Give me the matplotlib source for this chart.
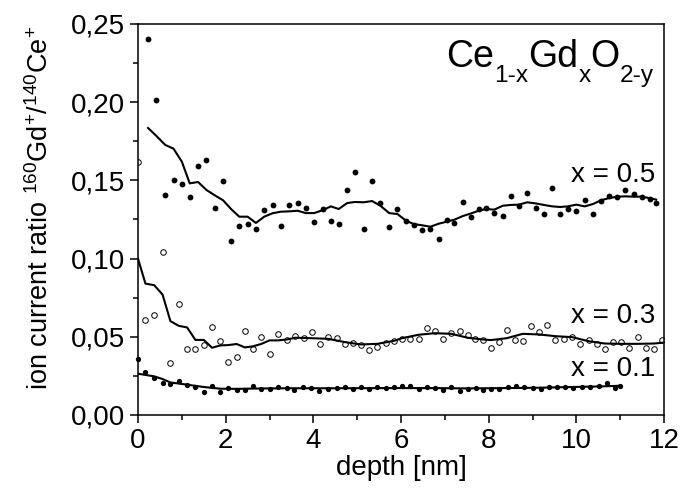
import matplotlib
matplotlib.use('Agg')
import matplotlib.pyplot as plt
import matplotlib.transforms as mtransforms
from matplotlib.ticker import MultipleLocator, FuncFormatter

plt.rcParams['font.family'] = ['Liberation Sans', 'DejaVu Sans']
plt.rcParams['mathtext.fontset'] = 'custom'
plt.rcParams['mathtext.rm'] = 'Liberation Sans'
plt.rcParams['mathtext.it'] = 'Liberation Sans:italic'

# x = 0.5 (filled) -- measured points and smoothed curve
x05_depth = [0.23, 0.42, 0.62, 0.81, 1.00, 1.18, 1.37, 1.56, 1.75, 1.94, 2.13, 2.31, 2.50,
             2.69, 2.88, 3.07, 3.26, 3.45, 3.64, 3.83, 4.02, 4.21, 4.40, 4.58, 4.77, 4.95,
             5.15, 5.34, 5.53, 5.73, 5.92, 6.11, 6.29, 6.48, 6.67, 6.86, 7.04, 7.22, 7.41,
             7.60, 7.77, 7.94, 8.13, 8.32, 8.50, 8.69, 8.88, 9.07, 9.26, 9.45, 9.63, 9.81,
             10.00, 10.19, 10.38, 10.57, 10.75, 10.93, 11.12, 11.31, 11.49, 11.67, 11.82]
x05_ratio = [0.2404, 0.2014, 0.1409, 0.1505, 0.1477, 0.1394, 0.1594, 0.1633, 0.1324, 0.1494,
             0.1111, 0.1209, 0.1222, 0.1190, 0.1311, 0.1343, 0.1207, 0.1340, 0.1355, 0.1323,
             0.1236, 0.1319, 0.1243, 0.1221, 0.1440, 0.1555, 0.1191, 0.1496, 0.1357, 0.1204,
             0.1317, 0.1238, 0.1215, 0.1181, 0.1191, 0.1123, 0.1247, 0.1226, 0.1362, 0.1263,
             0.1316, 0.1323, 0.1294, 0.1274, 0.1402, 0.1336, 0.1421, 0.1326, 0.1283, 0.1451,
             0.1283, 0.1317, 0.1302, 0.1374, 0.1285, 0.1368, 0.1402, 0.1391, 0.1436, 0.1411,
             0.1396, 0.1381, 0.1355]
x05_fit = [0.1835, 0.1784, 0.1727, 0.1703, 0.1620, 0.1481, 0.1490, 0.1439, 0.1405, 0.1373,
           0.1315, 0.1268, 0.1268, 0.1228, 0.1268, 0.1290, 0.1300, 0.1302, 0.1306, 0.1291,
           0.1291, 0.1309, 0.1334, 0.1317, 0.1355, 0.1362, 0.1360, 0.1368, 0.1338, 0.1291,
           0.1285, 0.1243, 0.1221, 0.1213, 0.1204, 0.1223, 0.1236, 0.1249, 0.1272, 0.1289,
           0.1306, 0.1317, 0.1313, 0.1338, 0.1343, 0.1345, 0.1360, 0.1353, 0.1343, 0.1334,
           0.1330, 0.1334, 0.1345, 0.1334, 0.1349, 0.1374, 0.1387, 0.1396, 0.1398, 0.1396,
           0.1396, 0.1387, 0.1377]

# x = 0.3 (open)
x03_depth = [0.00, 0.17, 0.37, 0.56, 0.74, 0.93, 1.12, 1.31, 1.50, 1.69, 1.88, 2.06, 2.25,
             2.44, 2.62, 2.81, 3.00, 3.19, 3.40, 3.59, 3.78, 3.97, 4.15, 4.34, 4.53, 4.72,
             4.91, 5.09, 5.28, 5.46, 5.65, 5.84, 6.02, 6.21, 6.40, 6.59, 6.77, 6.96, 7.15,
             7.34, 7.52, 7.68, 7.86, 8.05, 8.23, 8.41, 8.59, 8.78, 8.96, 9.15, 9.34, 9.52,
             9.72, 9.90, 10.09, 10.28, 10.47, 10.65, 10.83, 11.02, 11.21, 11.40, 11.58,
             11.77, 11.96]
x03_ratio = [0.162, 0.061, 0.064, 0.104, 0.033, 0.071, 0.042, 0.042, 0.045, 0.056, 0.047,
             0.034, 0.037, 0.054, 0.042, 0.050, 0.039, 0.052, 0.0477, 0.0506, 0.0491, 0.0530,
             0.0455, 0.0498, 0.0494, 0.0451, 0.0460, 0.0449, 0.0413, 0.0436, 0.0460, 0.0472,
             0.0489, 0.0485, 0.0485, 0.0555, 0.0534, 0.0483, 0.0526, 0.0536, 0.0511, 0.0489,
             0.0479, 0.0430, 0.0464, 0.0545, 0.0479, 0.0470, 0.0568, 0.0528, 0.0574, 0.0479,
             0.0489, 0.0500, 0.0455, 0.0477, 0.0455, 0.0423, 0.0468, 0.0466, 0.0426, 0.0498,
             0.0426, 0.0423, 0.0479]
x03_fit_depth = [0.00, 0.17, 0.37, 0.56, 0.74, 0.93, 1.12, 1.31, 1.50, 1.69, 1.88, 2.06,
                 2.25, 2.44, 2.62, 2.81, 3.00, 3.19, 3.40, 3.59, 3.97, 4.34, 4.72, 5.09,
                 5.46, 5.84, 6.02, 6.40, 6.77, 7.15, 7.52, 7.86, 8.05, 8.41, 8.78, 9.15,
                 9.52, 9.90, 10.28, 10.65, 11.02, 11.40, 11.77, 11.96]
x03_fit = [0.100, 0.084, 0.083, 0.077, 0.060, 0.057, 0.056, 0.048, 0.048, 0.043, 0.0445,
           0.0447, 0.0454, 0.0432, 0.0439, 0.0454, 0.0477, 0.0477, 0.0483, 0.0494, 0.0491,
           0.0487, 0.0466, 0.0451, 0.0455, 0.0474, 0.0491, 0.0513, 0.0523, 0.0519, 0.0494,
           0.0483, 0.0479, 0.0491, 0.0519, 0.0515, 0.0504, 0.0498, 0.0472, 0.0457, 0.0455,
           0.0455, 0.0457, 0.0462]

# x = 0.1 (filled, small)
x01_depth = [0.00, 0.17, 0.37, 0.56, 0.74, 0.93, 1.12, 1.31, 1.50, 1.69, 1.88, 2.06, 2.25,
             2.44, 2.62, 2.81, 3.00, 3.19, 3.39, 3.57, 3.76, 3.95, 4.14, 4.34, 4.53, 4.72,
             4.90, 5.09, 5.27, 5.46, 5.65, 5.84, 6.02, 6.21, 6.40, 6.59, 6.78, 6.96, 7.15,
             7.34, 7.53, 7.70, 7.86, 8.05, 8.24, 8.43, 8.63, 8.81, 9.00, 9.19, 9.37, 9.56,
             9.75, 9.93, 10.13, 10.32, 10.51, 10.69, 10.88, 11.00]
x01_ratio = [0.0359, 0.0272, 0.0234, 0.0203, 0.0200, 0.0217, 0.0194, 0.0177, 0.0150, 0.0184,
             0.0148, 0.0175, 0.0160, 0.0160, 0.0186, 0.0167, 0.0169, 0.0177, 0.0170, 0.0160,
             0.0181, 0.0170, 0.0151, 0.0166, 0.0174, 0.0181, 0.0164, 0.0177, 0.0166, 0.0177,
             0.0170, 0.0179, 0.0183, 0.0183, 0.0164, 0.0179, 0.0172, 0.0162, 0.0177, 0.0155,
             0.0166, 0.0171, 0.0160, 0.0168, 0.0168, 0.0181, 0.0185, 0.0181, 0.0174, 0.0168,
             0.0181, 0.0181, 0.0179, 0.0174, 0.0177, 0.0177, 0.0185, 0.0204, 0.0172, 0.0185]
x01_fit_depth = [0.00, 0.37, 0.56, 0.74, 1.12, 1.50, 1.88, 2.25, 2.62, 3.39, 4.53, 5.65,
                 6.78, 7.53, 9.07, 10.59, 11.00]
x01_fit = [0.0264, 0.0247, 0.0230, 0.0208, 0.0194, 0.0179, 0.0168, 0.0167, 0.0169, 0.0171,
           0.0171, 0.0172, 0.0172, 0.0170, 0.0174, 0.0183, 0.0187]


def rich_text(ax, x, y, parts, size):
    # lay out pieces (text, scale, shift) left to right, right-aligned at (x, y)
    fig = ax.figure
    renderer = fig.canvas.get_renderer()
    items = []
    for s, scale, shift in parts:
        t = ax.text(x, y, s, fontsize=size * scale, ha='left', va='baseline')
        w = t.get_window_extent(renderer).width * 72 / fig.dpi
        items.append((t, w, shift))
    offset = -sum(w for _, w, _ in items)
    for t, w, shift in items:
        t.set_transform(mtransforms.offset_copy(ax.transData, fig=fig, x=offset,
                                                y=shift * size, units='points'))
        offset += w


fig = plt.figure(figsize=(6.83, 4.91), dpi=100)
ax = fig.add_axes([138 / 683, 1 - 415 / 491, 526 / 683, 391 / 491])

ax.plot(x05_depth, x05_ratio, 'o', color='black', ms=4.2, mew=0, clip_on=False)
ax.plot(x05_depth, x05_fit, '-', color='black', lw=1.5)
ax.plot(x03_depth, x03_ratio, 'o', mfc='white', mec='black', ms=4.0, mew=0.7)
ax.plot(x03_fit_depth, x03_fit, '-', color='black', lw=1.5)
ax.plot(x01_depth, x01_ratio, 'o', color='black', ms=3.8, mew=0, clip_on=False)
ax.plot(x01_fit_depth, x01_fit, '-', color='black', lw=1.5)

ax.set_xlim(0, 12)
ax.set_ylim(0, 0.25)
ax.xaxis.set_major_locator(MultipleLocator(2))
ax.xaxis.set_minor_locator(MultipleLocator(1))
ax.yaxis.set_major_locator(MultipleLocator(0.05))
ax.yaxis.set_minor_locator(MultipleLocator(0.025))
ax.yaxis.set_major_formatter(FuncFormatter(lambda v, p: f'{v:.2f}'.replace('.', ',')))
ax.tick_params(which='major', direction='out', length=6, width=1.1, labelsize=20, pad=3)
ax.tick_params(which='minor', direction='out', length=3.5, width=1.1)
for sp in ax.spines.values():
    sp.set_linewidth(1.1)

ax.set_xlabel('depth [nm]', fontsize=20, labelpad=1)
ax.set_ylabel(r'ion current ratio $^{160}$Gd$^{+}$/$^{140}$Ce$^{+}$', fontsize=19.5)
ax.yaxis.set_label_coords(-0.16, 0.53)

ax.text(11.81, 0.1492, 'x = 0.5', fontsize=20, ha='right', va='baseline')
ax.text(11.81, 0.0586, 'x = 0.3', fontsize=20, ha='right', va='baseline')
ax.text(11.81, 0.0249, 'x = 0.1', fontsize=20, ha='right', va='baseline')

rich_text(ax, 11.77, 0.2227,
          [('Ce', 1, 0), ('1-x', 0.65, -0.4), ('Gd', 1, 0), ('x', 0.65, -0.4),
           ('O', 1, 0), ('2-y', 0.65, -0.4)], 27)

fig.savefig('out.png', dpi=100)
